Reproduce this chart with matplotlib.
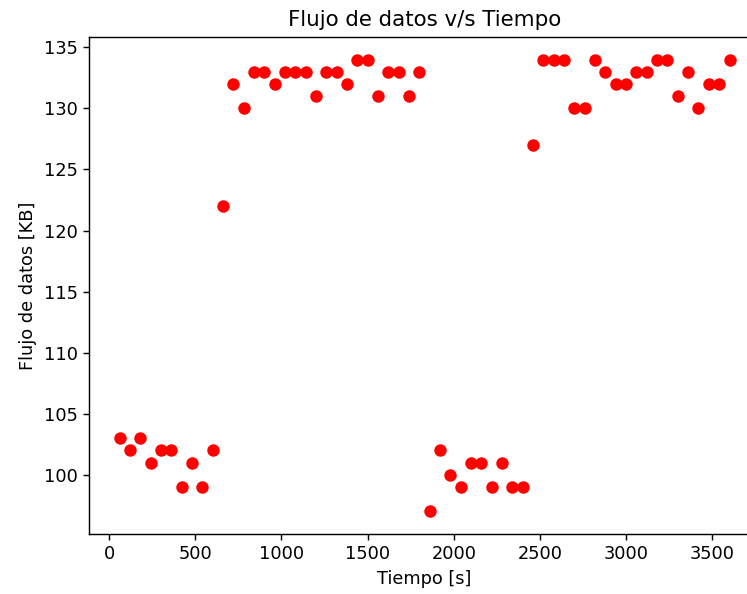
import matplotlib
matplotlib.use('Agg')
import matplotlib.pyplot as plt

# Data: one sample every 60 s
tiempo = list(range(60, 3601, 60))
flujo = [103, 102, 103, 101, 102, 102, 99, 101, 99, 102,
         122, 132, 130, 133, 133, 132, 133, 133, 133, 131,
         133, 133, 132, 134, 134, 131, 133, 133, 131, 133,
         97, 102, 100, 99, 101, 101, 99, 101, 99, 99,
         127, 134, 134, 134, 130, 130, 134, 133, 132, 132,
         133, 133, 134, 134, 131, 133, 130, 132, 132, 134]

s = 1.28  # overall scale of the original render
plt.rcParams['font.size'] = 10 * s
plt.rcParams['axes.linewidth'] = 0.8 * s
plt.rcParams['xtick.major.size'] = 3.5 * s
plt.rcParams['ytick.major.size'] = 3.5 * s
plt.rcParams['xtick.major.width'] = 0.8 * s
plt.rcParams['ytick.major.width'] = 0.8 * s

fig = plt.figure(figsize=(7.47, 5.94), dpi=100)
# axes run past the right edge (the original screenshot is cropped there)
ax = fig.add_axes([89 / 747, 60 / 594, 671 / 747, 497 / 594])

ax.plot(tiempo, flujo, 'ro', markersize=6 * s, markeredgewidth=1.0 * s)

ax.set_title('Flujo de datos v/s Tiempo', fontsize=12 * s, pad=6 * s)
ax.set_xlabel('Tiempo [s]', labelpad=4 * s)
ax.set_ylabel('Flujo de datos [KB]', labelpad=4 * s)

fig.savefig('out.png', dpi=100)
